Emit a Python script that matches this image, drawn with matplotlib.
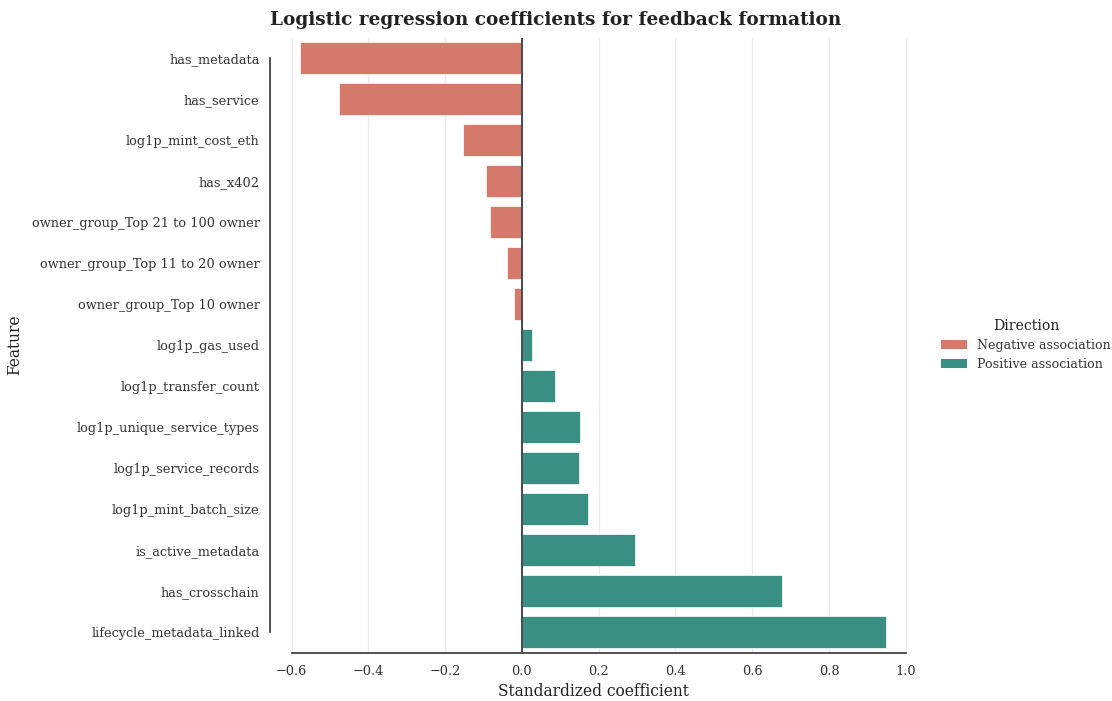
import matplotlib
matplotlib.use("Agg")
import matplotlib.pyplot as plt
from matplotlib.patches import Patch
import numpy as np

features = [
    "has_metadata", "has_service", "log1p_mint_cost_eth", "has_x402",
    "owner_group_Top 21 to 100 owner", "owner_group_Top 11 to 20 owner",
    "owner_group_Top 10 owner", "log1p_gas_used", "log1p_transfer_count",
    "log1p_unique_service_types", "log1p_service_records",
    "log1p_mint_batch_size", "is_active_metadata", "has_crosschain",
    "lifecycle_metadata_linked",
]
coefs = [-0.579, -0.477, -0.154, -0.094, -0.083, -0.039, -0.020,
         0.026, 0.087, 0.151, 0.150, 0.172, 0.294, 0.677, 0.949]
direction_labels = ["Negative association", "Positive association"]
colors = {"Negative association": "#d5796a", "Positive association": "#388f82"}

plt.rcParams["font.family"] = ["DejaVu Serif"]

fig = plt.figure(figsize=(11.12, 7.01), dpi=100)
ax = fig.add_axes([270 / 1112, 1 - 652.5 / 701, (917 - 270) / 1112, (652.5 - 37.5) / 701])

dirs = ["Negative association" if c < 0 else "Positive association" for c in coefs]
y = np.arange(len(features))
ax.barh(y, coefs, height=0.8, color=[colors[d] for d in dirs], edgecolor="white", linewidth=0.5, zorder=2)
ax.set_ylim(len(features) - 0.5, -0.5)
ax.set_xlim(-0.656, 1.029)
ax.set_yticks(y)
ax.set_yticklabels(features, fontsize=9.3, color="#333333")
ax.set_xticks(np.arange(-0.6, 1.01, 0.2))
ax.set_xticklabels(["\u22120.6", "\u22120.4", "\u22120.2", "0.0", "0.2", "0.4", "0.6", "0.8", "1.0"],
                   fontsize=9.3, color="#333333")
ax.tick_params(axis="y", length=0, pad=7.5)
ax.tick_params(axis="x", length=0, pad=9)
ax.grid(axis="x", color="#ebebeb", linewidth=1, zorder=0)
ax.set_axisbelow(True)
ax.axvline(0, color="#454a52", linewidth=1.4, zorder=3)

for s in ["top", "right"]:
    ax.spines[s].set_visible(False)
for s in ["left", "bottom"]:
    ax.spines[s].set_color("#333333")
    ax.spines[s].set_linewidth(1.2)
ax.spines["left"].set_bounds(0, len(features) - 1)
ax.spines["bottom"].set_bounds(-0.6, 1.0)

ax.set_xlabel("Standardized coefficient", fontsize=11.2, color="#222222", labelpad=3.5)
ax.set_ylabel("Feature", fontsize=11.2, color="#222222", labelpad=6)
fig.suptitle("Logistic regression coefficients for feedback formation",
             fontsize=13.3, fontweight="bold", color="#222222", x=0.5, y=0.985)

handles = [Patch(facecolor=colors[d], label=d) for d in direction_labels]
leg = ax.legend(handles=handles, title="Direction", loc="center left",
                bbox_to_anchor=(1.02, 0.5), frameon=False, fontsize=9.1,
                title_fontsize=10.1)
for t in leg.get_texts():
    t.set_color("#333333")
leg.get_title().set_color("#222222")

fig.savefig("out.png", dpi=100)
